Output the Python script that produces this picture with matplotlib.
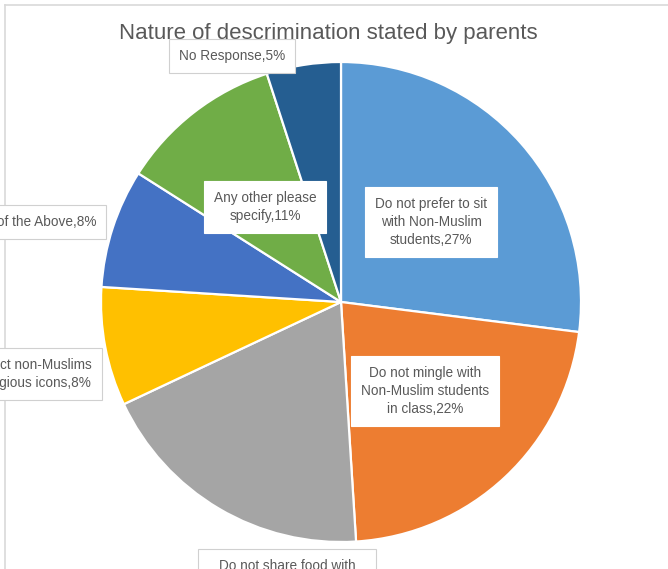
import matplotlib
matplotlib.use('Agg')
import matplotlib.pyplot as plt

# Survey responses
categories = [
    'Do not prefer to sit\nwith Non-Muslim\nstudents',
    'Do not mingle with\nNon-Muslim students\nin class',
    'Do not share food with\nNon-Muslim students',
    'Do not respect non-Muslims\nand their religious icons',
    'All of the Above',
    'Any other please\nspecify',
    'No Response',
]
percents = [27, 22, 19, 8, 8, 11, 5]
colors = ['#5B9BD5', '#ED7D31', '#A5A5A5', '#FFC000', '#4472C4', '#70AD47', '#255E91']

# label anchor (x, y) in figure pixels, y measured from the top, plus alignment
label_pos = [(431, 222), (425, 391), (287, 575), (92, 374), (96, 222), (265, 207), (232, 56)]
label_ha = ['center', 'center', 'center', 'right', 'right', 'center', 'center']
label_inside = [True, True, False, False, False, True, False]

W, H = 668, 569
plt.rcParams['font.family'] = ['Liberation Sans', 'DejaVu Sans']

fig = plt.figure(figsize=(W / 100, H / 100), dpi=100)
ax = fig.add_axes([0, 0, 1, 1])
ax.axis('off')

ax.pie(percents, colors=colors, startangle=90, counterclock=False,
       center=(341, H - 302), radius=240,
       wedgeprops=dict(edgecolor='white', linewidth=1.6))
ax.set_xlim(0, W)
ax.set_ylim(0, H)
ax.set_aspect('equal')

# Data labels: category name and percentage
for name, pct, (x, y), ha, inside in zip(categories, percents, label_pos,
                                         label_ha, label_inside):
    edge = 'white' if inside else '#D0D0D0'
    ax.text(x, H - y, f'{name},{pct}%', ha=ha, va='center', multialignment='center',
            fontsize=9.8, color='#595959', linespacing=1.4, clip_on=False,
            bbox=dict(boxstyle='square,pad=0.7', facecolor='white',
                      edgecolor=edge, linewidth=0.8))

ax.text(328, H - 33, 'Nature of descrimination stated by parents',
        ha='center', va='center', fontsize=16, color='#595959')

# chart area border
ax.plot([5, W], [H - 5, H - 5], color='#D9D9D9', linewidth=1.2, clip_on=False)
ax.plot([5, 5], [H - 5, 0], color='#D9D9D9', linewidth=1.2, clip_on=False)

fig.savefig('out.png', dpi=100, facecolor='white')
